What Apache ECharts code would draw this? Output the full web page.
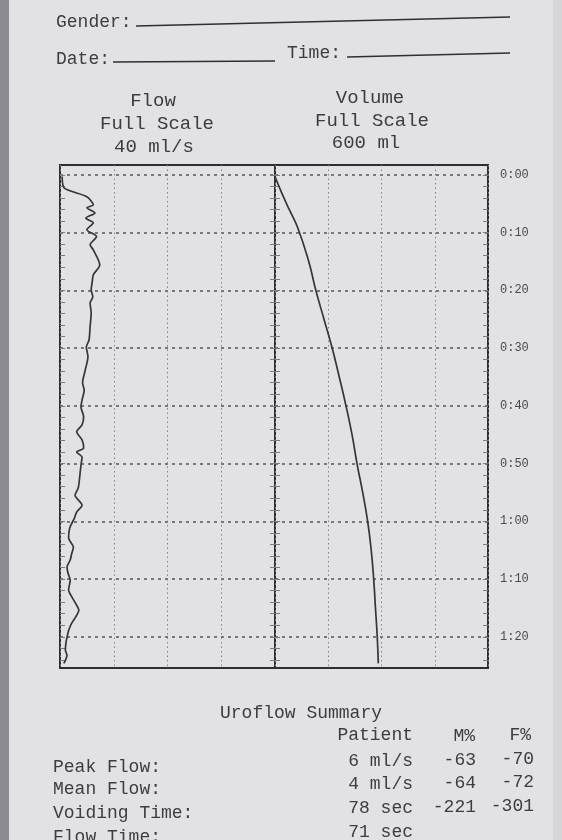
<!DOCTYPE html>
<html><head><meta charset="utf-8">
<script src="https://cdn.jsdelivr.net/npm/echarts@6/dist/echarts.min.js"></script>
<style>html,body{margin:0;padding:0;background:#e2e2e4}#c{width:562px;height:840px}</style>
</head><body><div id="c"></div><script>
// ---- data ----
// Flow trace: time (s) and flow rate (ml/s), full scale 40 ml/s
const flowTime = [0.3, 2.3, 3.8, 5.2, 5.7, 6.6, 7.5, 8.3, 9.5, 10.7, 12.1, 13.0, 15.6, 17.3, 18.5, 19.9, 21.1, 22.2, 23.9, 26.3, 28.6, 29.8, 31.5, 33.8, 36.0, 37.3, 39.0, 40.2, 41.9, 43.3, 44.5, 45.9, 47.3, 48.0, 48.9, 50.3, 52.0, 54.2, 55.5, 57.2, 58.4, 59.4, 61.2, 62.9, 64.5, 65.5, 66.7, 67.9, 69.0, 70.2, 71.9, 73.1, 74.2, 75.4, 76.6, 77.6, 78.9, 80.1, 81.1, 82.3, 83.2, 84.1, 84.6];
const flowRate = [0.4, 0.8, 5.0, 6.2, 5.0, 6.5, 4.8, 6.2, 5.0, 6.8, 5.6, 6.2, 7.4, 6.2, 6.0, 5.8, 6.1, 5.6, 5.8, 5.6, 5.4, 4.9, 5.2, 4.7, 4.2, 4.5, 4.1, 3.9, 4.4, 4.1, 3.1, 4.1, 4.4, 3.1, 4.1, 3.9, 3.7, 3.4, 2.8, 4.1, 3.1, 2.7, 1.8, 1.6, 2.5, 2.2, 1.9, 1.3, 1.5, 1.9, 1.6, 2.2, 2.9, 3.5, 2.9, 2.2, 1.6, 1.3, 1.1, 1.0, 1.3, 1.0, 0.7];
// Volume trace: time (s) and voided volume (ml), full scale 600 ml
const volTime = [0.3, 3, 6, 9, 15, 20, 25, 30, 35, 40, 45, 50, 55, 60, 65, 70, 75, 80, 84.6];
const volValue = [0, 18, 40, 63, 95, 115, 138, 161, 181, 200, 217, 231, 247, 261, 271, 278, 283, 288, 291];
// Time axis
const timeTicks = [0, 10, 20, 30, 40, 50, 60, 70, 80];
const timeLabels = ['0:00', '0:10', '0:20', '0:30', '0:40', '0:50', '1:00', '1:10', '1:20'];
const minorTimeTicks = [0, 2, 4, 6, 8, 10, 12, 14, 16, 18, 20, 22, 24, 26, 28, 30, 32, 34, 36, 38, 40, 42, 44, 46, 48, 50, 52, 54, 56, 58, 60, 62, 64, 66, 68, 70, 72, 74, 76, 78, 80, 82, 84];
// Summary table
const summaryRows = ['Peak Flow:', 'Mean Flow:', 'Voiding Time:', 'Flow Time:'];
const patientVals = ['6 ml/s', '4 ml/s', '78 sec', '71 sec'];
const malePct = ['-63', '-64', '-221', ''];
const femalePct = ['-70', '-72', '-301', ''];

// ---- chart ----
const MONO = '"Liberation Mono", "DejaVu Sans Mono", monospace';
const INK = '#3d3d40';
const chart = echarts.init(document.getElementById('c'), null, {renderer: 'canvas'});

function yAx(grid, pos, extra) {
  return Object.assign({
    type: 'value', gridIndex: grid, position: pos, inverse: true, min: -1.7, max: 85.4,
    axisLine: {show: false}, axisLabel: {show: false}, axisTick: {show: false}, splitLine: {show: false}
  }, extra);
}
const majorSplit = {show: true, lineStyle: {color: '#55555a', width: 1.7, type: [3, 4]}};
const minorTicks = {show: true, inside: true, length: 5, customValues: minorTimeTicks, lineStyle: {color: '#7c7c80', width: 1}};
function xAx(grid, max) {
  return {
    type: 'value', gridIndex: grid, min: 0, max: max, interval: max / 4,
    axisLine: {show: false}, axisLabel: {show: false}, axisTick: {show: false},
    splitLine: {show: true, lineStyle: {color: '#828286', width: 1, type: [1.5, 3]}}
  };
}

function T(text, x, y, size, opts) {
  return {
    type: 'text', x: x, y: y,
    style: Object.assign({text: text, font: size + 'px ' + MONO, fill: INK, textVerticalAlign: 'middle'}, opts || {})
  };
}
function L(x1, y1, x2, y2) {
  return {type: 'line', shape: {x1: x1, y1: y1, x2: x2, y2: y2}, style: {stroke: '#2f2f33', lineWidth: 1.6}};
}

const graphics = [
  {type: 'rect', shape: {x: 0, y: 0, width: 9, height: 840}, style: {fill: '#8c8c92'}, z: -10},
  {type: 'rect', shape: {x: 553, y: 0, width: 9, height: 840}, style: {fill: '#d6d6d9'}, z: -10},
  T('Gender:', 56, 22, 18),
  L(136, 26, 510, 17),
  T('Date:', 56, 59, 18),
  L(113, 62, 275, 61),
  T('Time:', 287, 53, 18),
  L(347, 57, 510, 53),
  T('Flow', 153, 101, 19, {textAlign: 'center'}),
  T('Full Scale', 157, 124, 19, {textAlign: 'center'}),
  T('40 ml/s', 154, 147, 19, {textAlign: 'center'}),
  T('Volume', 370, 98, 19, {textAlign: 'center'}),
  T('Full Scale', 372, 121, 19, {textAlign: 'center'}),
  T('600 ml', 366, 143, 19, {textAlign: 'center'}),
  T('Uroflow Summary', 301, 713, 18, {textAlign: 'center'}),
  T('Patient', 413, 735, 18, {textAlign: 'right'}),
  T('M%', 475, 736, 18, {textAlign: 'right'}),
  T('F%', 531, 735, 18, {textAlign: 'right'})
];
const rowY = [767, 789, 813, 837];
const valY = [761, 784, 808, 832];
summaryRows.forEach(function (r, i) {
  graphics.push(T(r, 53, rowY[i], 18));
  graphics.push(T(patientVals[i], 413, valY[i], 18, {textAlign: 'right'}));
  if (malePct[i]) graphics.push(T(malePct[i], 476, valY[i] - 0.5, 18, {textAlign: 'right'}));
  if (femalePct[i]) graphics.push(T(femalePct[i], 534, valY[i] - 2, 18, {textAlign: 'right'}));
});

chart.setOption({
  animation: false,
  backgroundColor: '#e2e2e4',
  grid: [
    {left: 60, top: 165, width: 215, height: 503, show: true, borderColor: '#2e2e32', borderWidth: 2},
    {left: 275, top: 165, width: 213, height: 503, show: true, borderColor: '#2e2e32', borderWidth: 2}
  ],
  xAxis: [xAx(0, 40), xAx(1, 600)],
  yAxis: [
    yAx(0, 'left', {axisTick: {show: false, customValues: timeTicks}, splitLine: majorSplit}),
    yAx(0, 'left', {axisTick: minorTicks}),
    yAx(0, 'right', {axisTick: minorTicks}),
    yAx(1, 'left', {axisTick: {show: false, customValues: timeTicks}, splitLine: majorSplit}),
    yAx(1, 'left', {axisTick: minorTicks}),
    yAx(1, 'right', {
      axisTick: minorTicks,
      axisLabel: {
        show: true, customValues: timeTicks, margin: 12, fontSize: 12, fontFamily: MONO, color: '#4a4a4e',
        formatter: function (v) { const k = timeTicks.indexOf(v); return k >= 0 ? timeLabels[k] : ''; }
      }
    })
  ],
  series: [
    {
      name: 'Flow', type: 'line', xAxisIndex: 0, yAxisIndex: 0, showSymbol: false, smooth: 0.25,
      lineStyle: {color: '#35353a', width: 1.7},
      data: flowTime.map(function (t, i) { return [flowRate[i], t]; })
    },
    {
      name: 'Volume', type: 'line', xAxisIndex: 1, yAxisIndex: 3, showSymbol: false, smooth: true,
      lineStyle: {color: '#35353a', width: 1.7},
      data: volTime.map(function (t, i) { return [volValue[i], t]; })
    }
  ],
  graphic: graphics
});
</script></body></html>
